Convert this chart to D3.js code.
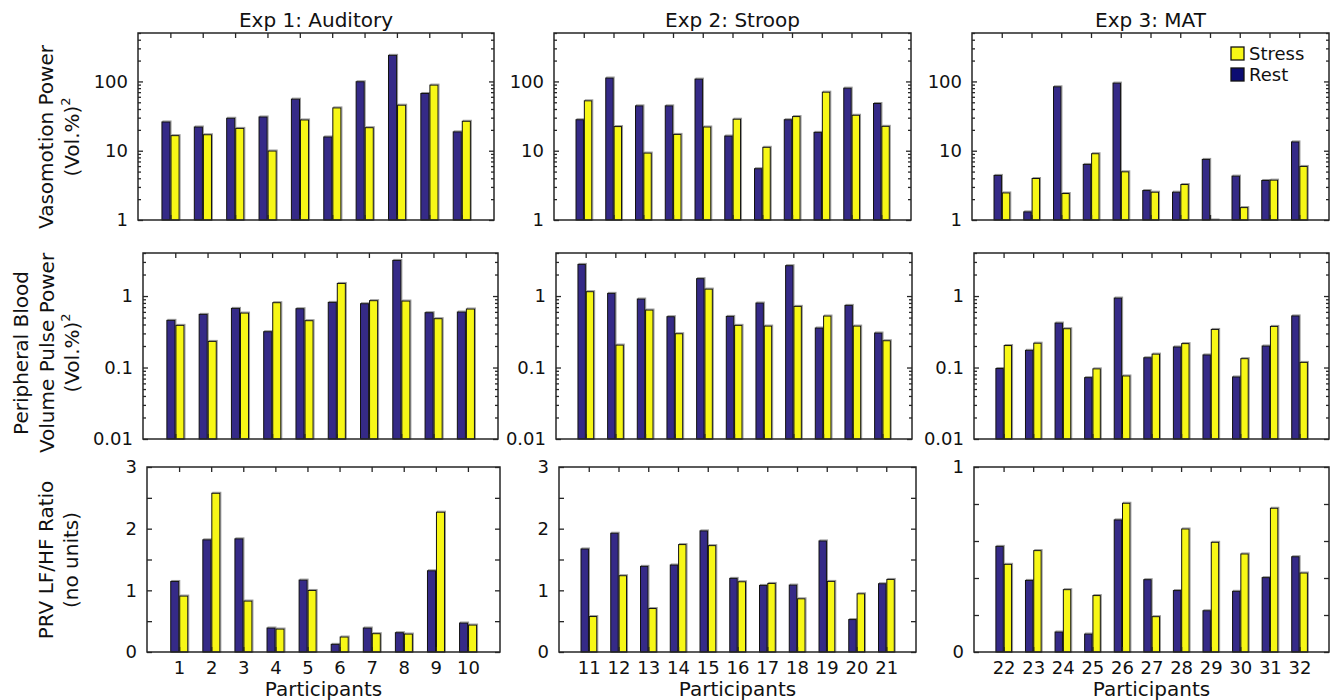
<!DOCTYPE html>
<html>
<head>
<meta charset="utf-8">
<script src="https://cdn.jsdelivr.net/npm/d3@7"></script>
<style>
  body { margin: 0; background: #fff; }
  text { font-family: "DejaVu Sans", Verdana, sans-serif; fill: #111; }
</style>
</head>
<body>
<svg id="chart"></svg>
<script>
// ---- data ----
const expTitles = ['Exp 1: Auditory', 'Exp 2: Stroop', 'Exp 3: MAT'];
const participants1 = [1, 2, 3, 4, 5, 6, 7, 8, 9, 10];
const participants2 = [11, 12, 13, 14, 15, 16, 17, 18, 19, 20, 21];
const participants3 = [22, 23, 24, 25, 26, 27, 28, 29, 30, 31, 32];

// vasomotion power (Vol.%)^2
const vasoRest1   = [26, 22, 29.4, 30.7, 55.5, 15.8, 99, 238, 67, 18.7];
const vasoStress1 = [16.5, 17, 21, 9.9, 27.8, 41.5, 21.5, 45.4, 88.5, 26.6];
const vasoRest2   = [28, 112, 44.4, 44.4, 108, 16.3, 5.5, 28, 18.4, 80, 48];
const vasoStress2 = [52.5, 22.3, 9.25, 17.2, 22, 28.5, 11.2, 31.1, 70, 32.5, 22.5];
const vasoRest3   = [4.4, 1.31, 83.7, 6.34, 94.6, 2.66, 2.52, 7.49, 4.3, 3.72, 13.4];
const vasoStress3 = [2.46, 3.97, 2.41, 9.05, 4.96, 2.52, 3.25, 1, 1.51, 3.76, 5.93];

// peripheral blood volume pulse power (Vol.%)^2
const pbvRest1   = [0.457, 0.554, 0.672, 0.317, 0.665, 0.815, 0.781, 3.15, 0.585, 0.597];
const pbvStress1 = [0.389, 0.232, 0.578, 0.807, 0.452, 1.50, 0.861, 0.851, 0.482, 0.658];
const pbvRest2   = [2.77, 1.09, 0.908, 0.514, 1.75, 0.519, 0.798, 2.66, 0.357, 0.740, 0.304];
const pbvStress2 = [1.15, 0.206, 0.637, 0.297, 1.25, 0.389, 0.380, 0.717, 0.525, 0.380, 0.237];
const pbvRest3   = [0.0968, 0.174, 0.419, 0.0722, 0.937, 0.137, 0.194, 0.150, 0.0738, 0.200, 0.527];
const pbvStress3 = [0.203, 0.219, 0.349, 0.0958, 0.0762, 0.154, 0.216, 0.341, 0.133, 0.376, 0.118];

// PRV LF/HF ratio
const prvRest1   = [1.144, 1.819, 1.835, 0.389, 1.166, 0.124, 0.389, 0.313, 1.317, 0.470];
const prvStress1 = [0.907, 2.574, 0.826, 0.372, 0.998, 0.243, 0.297, 0.291, 2.267, 0.437];
const prvRest2   = [1.671, 1.926, 1.389, 1.411, 1.964, 1.194, 1.080, 1.085, 1.801, 0.526, 1.107];
const prvStress2 = [0.575, 1.237, 0.705, 1.742, 1.725, 1.139, 1.112, 0.863, 1.145, 0.944, 1.177];
const prvRest3   = [0.571, 0.387, 0.108, 0.097, 0.714, 0.391, 0.332, 0.223, 0.328, 0.402, 0.515];
const prvStress3 = [0.474, 0.548, 0.337, 0.305, 0.804, 0.191, 0.665, 0.593, 0.530, 0.777, 0.427];

const legendLabels = ['Stress', 'Rest'];

// ---- layout ----
const colors = { rest: '#352a87', stress: '#f7f716', restLegend: '#0c0c72' };
const rowBox = [[33, 220], [253, 439], [467, 652]];
const colBox = [
    [[138, 494], [554, 911], [972, 1329]],
    [[143, 498], [556, 912], [974, 1329]],
    [[147, 500], [559, 916], [974, 1329]]
];
const tickFont = 18, labelFont = 20;

class BarPanel {

    constructor(_config, cats, rest, stress) {
        this.config = {
            parent: _config.parent,
            x0: _config.x0, x1: _config.x1,
            y0: _config.y0, y1: _config.y1,
            yType: _config.yType,
            yDomain: _config.yDomain,
            labelTicks: _config.labelTicks,
            allTicks: _config.allTicks,
            showX: _config.showX
        };
        this.cats = cats;
        this.rest = rest;
        this.stress = stress;
        this.initVis();
    }

    initVis() {
        let vis = this;
        let c = vis.config;

        vis.g = c.parent.append('g');

        vis.x = d3.scaleLinear()
            .domain([0, vis.cats.length + 1])
            .range([c.x0, c.x1]);

        vis.y = (c.yType === 'log' ? d3.scaleLog() : d3.scaleLinear())
            .domain(c.yDomain)
            .range([c.y1, c.y0]);

        vis.render();
    }

    render() {
        let vis = this;
        let c = vis.config;
        let step = vis.x(1) - vis.x(0);
        let bw = step * 0.25;
        let base = vis.y(c.yDomain[0]);
        let yv = v => vis.y(Math.max(v, c.yDomain[0]));

        // bars: rest on the left, stress on the right
        const series = [
            { vals: vis.rest, fill: colors.rest, off: -bw - step * 0.01 },
            { vals: vis.stress, fill: colors.stress, off: step * 0.02 }
        ];
        series.forEach(s => {
            // faint grey edge like the exported figure
            vis.g.append('g')
                .selectAll('rect.shadow')
                .data(s.vals)
                .join('rect').attr('class', 'shadow')
                .attr('x', (d, i) => vis.x(i + 1) + s.off + 1)
                .attr('y', d => yv(d) - 1)
                .attr('width', bw)
                .attr('height', d => base - yv(d) + 1)
                .attr('fill', 'none')
                .attr('stroke', '#999')
                .attr('stroke-width', 1);
            vis.g.append('g')
                .selectAll('rect.bar')
                .data(s.vals)
                .join('rect').attr('class', 'bar')
                .attr('x', (d, i) => vis.x(i + 1) + s.off)
                .attr('y', d => yv(d))
                .attr('width', bw)
                .attr('height', d => base - yv(d))
                .attr('fill', s.fill)
                .attr('stroke', '#111')
                .attr('stroke-width', 1);
        });

        let idx = vis.cats.map((d, i) => i + 1);

        // x ticks (inside) top and bottom
        vis.g.append('g')
            .attr('transform', `translate(0,${c.y1})`)
            .call(d3.axisBottom(vis.x).tickValues(idx)
                .tickSizeInner(-5).tickSizeOuter(0).tickPadding(9)
                .tickFormat(i => c.showX ? vis.cats[i - 1] : ''));
        vis.g.append('g')
            .attr('transform', `translate(0,${c.y0})`)
            .call(d3.axisTop(vis.x).tickValues(idx)
                .tickSizeInner(-5).tickSizeOuter(0).tickFormat(''));

        // y ticks, minor ones shorter
        let fmt = v => c.labelTicks.includes(v) ? String(v) : '';
        let minor = c.allTicks.filter(v => !c.labelTicks.includes(v));
        let minorLen = c.yType === 'log' ? -3 : -5;
        vis.g.append('g')
            .attr('transform', `translate(${c.x0},0)`)
            .call(d3.axisLeft(vis.y).tickValues(c.labelTicks)
                .tickSizeInner(-5).tickSizeOuter(0).tickPadding(10).tickFormat(fmt));
        vis.g.append('g')
            .attr('transform', `translate(${c.x0},0)`)
            .call(d3.axisLeft(vis.y).tickValues(minor)
                .tickSizeInner(minorLen).tickSizeOuter(0).tickFormat(''));
        vis.g.append('g')
            .attr('transform', `translate(${c.x1},0)`)
            .call(d3.axisRight(vis.y).tickValues(c.labelTicks)
                .tickSizeInner(-5).tickSizeOuter(0).tickFormat(''));
        vis.g.append('g')
            .attr('transform', `translate(${c.x1},0)`)
            .call(d3.axisRight(vis.y).tickValues(minor)
                .tickSizeInner(minorLen).tickSizeOuter(0).tickFormat(''));

        vis.g.selectAll('.domain').remove();
        vis.g.selectAll('.tick line').attr('stroke', '#262626').attr('stroke-width', 1.3);
        vis.g.selectAll('.tick text')
            .attr('font-size', tickFont)
            .attr('font-family', '"DejaVu Sans", Verdana, sans-serif')
            .attr('fill', '#111');

        // box
        vis.g.append('rect')
            .attr('x', c.x0).attr('y', c.y0)
            .attr('width', c.x1 - c.x0).attr('height', c.y1 - c.y0)
            .attr('fill', 'none')
            .attr('stroke', '#262626')
            .attr('stroke-width', 1.5);

        if (c.showX) {
            vis.g.append('text')
                .attr('x', (c.x0 + c.x1) / 2)
                .attr('y', 696)
                .attr('text-anchor', 'middle')
                .attr('font-size', labelFont)
                .text('Participants');
        }
    }
}

function logTicks(lo, hi) {
    let out = [];
    for (let e = Math.floor(Math.log10(lo)); e <= Math.ceil(Math.log10(hi)); e++) {
        for (let m = 1; m <= 9; m++) {
            let v = +(m * Math.pow(10, e)).toPrecision(6);
            if (v >= lo && v <= hi) out.push(v);
        }
    }
    return out;
}

const svg = d3.select('#chart')
    .attr('width', 1335)
    .attr('height', 700);

const cats = [participants1, participants2, participants3];
const rows = [
    { type: 'log', rests: [vasoRest1, vasoRest2, vasoRest3], stresses: [vasoStress1, vasoStress2, vasoStress3] },
    { type: 'log', rests: [pbvRest1, pbvRest2, pbvRest3], stresses: [pbvStress1, pbvStress2, pbvStress3] },
    { type: 'lin', rests: [prvRest1, prvRest2, prvRest3], stresses: [prvStress1, prvStress2, prvStress3] }
];

rows.forEach((row, r) => {
    for (let k = 0; k < 3; k++) {
        let cfg = { parent: svg, x0: colBox[r][k][0], x1: colBox[r][k][1],
                    y0: rowBox[r][0], y1: rowBox[r][1], yType: row.type, showX: r === 2 };
        if (r === 0) {
            cfg.yDomain = [1, 500];
            cfg.labelTicks = [1, 10, 100];
            cfg.allTicks = logTicks(1, 500);
        } else if (r === 1) {
            cfg.yDomain = [0.01, 4];
            cfg.labelTicks = [0.01, 0.1, 1];
            cfg.allTicks = logTicks(0.01, 4);
        } else if (k < 2) {
            cfg.yDomain = [0, 3];
            cfg.labelTicks = [0, 1, 2, 3];
            cfg.allTicks = d3.range(0, 3.01, 0.5);
        } else {
            cfg.yDomain = [0, 1];
            cfg.labelTicks = [0, 1];
            cfg.allTicks = [0, 0.2, 0.4, 0.6, 0.8, 1];
        }
        new BarPanel(cfg, cats[k], row.rests[k], row.stresses[k]);
    }
});

// column titles
expTitles.forEach((t, k) => {
    svg.append('text')
        .attr('x', (colBox[0][k][0] + colBox[0][k][1]) / 2)
        .attr('y', 27)
        .attr('text-anchor', 'middle')
        .attr('font-size', labelFont)
        .text(t);
});

// y labels (rotated, multi-line)
const yLabels = [
    { cy: 137, lines: [['Vasomotion Power', 53], ['(Vol.%)', 79, true]] },
    { cy: 353, lines: [['Peripheral Blood', 28], ['Volume Pulse Power', 54], ['(Vol.%)', 79, true]] },
    { cy: 560, lines: [['PRV LF/HF Ratio', 53], ['(no units)', 78]] }
];
yLabels.forEach(lab => {
    lab.lines.forEach(([txt, bx, sup]) => {
        let t = svg.append('text')
            .attr('transform', `translate(${bx},${lab.cy}) rotate(-90)`)
            .attr('text-anchor', 'middle')
            .attr('font-size', labelFont)
            .text(txt);
        if (sup) {
            t.append('tspan')
                .attr('dy', -9)
                .attr('font-size', 13)
                .text('2');
        }
    });
});

// legend
const lg = svg.append('g').attr('transform', 'translate(1231,47)');
legendLabels.forEach((name, i) => {
    lg.append('rect')
        .attr('x', 0).attr('y', i * 21)
        .attr('width', 13).attr('height', 13)
        .attr('fill', name === 'Stress' ? colors.stress : colors.restLegend)
        .attr('stroke', '#111')
        .attr('stroke-width', 1.3);
    lg.append('text')
        .attr('x', 18).attr('y', i * 21 + 13)
        .attr('font-size', 18)
        .text(name);
});
</script>
</body>
</html>
